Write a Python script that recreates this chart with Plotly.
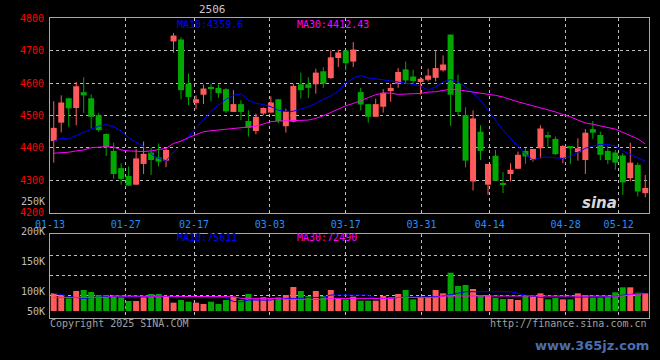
import plotly.graph_objects as go

# ---------------- data ----------------
dates = ["01-13","01-14","01-15","01-16","01-17","01-20","01-21","01-22","01-23","01-24",
         "01-27","02-05","02-06","02-07","02-10","02-11","02-12","02-13","02-14","02-17",
         "02-18","02-19","02-20","02-21","02-24","02-25","02-26","02-27","02-28","03-03",
         "03-04","03-05","03-06","03-07","03-10","03-11","03-12","03-13","03-14","03-17",
         "03-18","03-19","03-20","03-21","03-24","03-25","03-26","03-27","03-28","03-31",
         "04-01","04-02","04-03","04-07","04-08","04-09","04-10","04-11","04-14","04-15",
         "04-16","04-17","04-18","04-21","04-22","04-23","04-24","04-25","04-28","04-29",
         "04-30","05-06","05-07","05-08","05-09","05-12","05-13","05-14","05-15","05-16"]

opens = [4421,4478,4553,4523,4572,4553,4501,4443,4391,4338,
         4314,4287,4351,4386,4371,4361,4728,4734,4598,4539,
         4564,4588,4585,4581,4511,4535,4483,4452,4506,4509,
         4550,4467,4481,4596,4596,4596,4636,4615,4677,4700,
         4666,4572,4535,4496,4527,4575,4598,4642,4620,4603,
         4610,4616,4639,4749,4598,4501,4297,4450,4287,4376,
         4292,4320,4336,4391,4363,4399,4440,4428,4368,4406,
         4387,4363,4458,4440,4391,4386,4377,4307,4348,4261]
highs = [4544,4562,4555,4603,4618,4565,4508,4445,4416,4353,
         4343,4397,4420,4401,4414,4401,4754,4741,4629,4562,
         4595,4598,4596,4584,4578,4547,4516,4506,4525,4559,
         4550,4521,4598,4632,4618,4644,4649,4700,4702,4702,
         4726,4585,4535,4552,4581,4598,4646,4666,4641,4618,
         4644,4698,4685,4749,4626,4525,4516,4470,4351,4394,
         4326,4353,4389,4399,4397,4470,4450,4435,4409,4406,
         4430,4458,4483,4450,4406,4394,4384,4416,4355,4317]
lows = [4355,4448,4465,4470,4508,4460,4450,4375,4305,4287,
        4284,4287,4320,4317,4343,4341,4693,4550,4532,4519,
        4535,4544,4555,4508,4511,4486,4435,4442,4501,4509,
        4476,4447,4479,4552,4554,4567,4585,4613,4649,4639,
        4649,4516,4478,4496,4509,4542,4585,4600,4598,4564,
        4605,4605,4635,4468,4501,4340,4269,4363,4256,4299,
        4261,4297,4336,4351,4358,4368,4402,4379,4353,4351,
        4361,4320,4428,4363,4350,4333,4256,4297,4251,4248]
closes = [4462,4540,4522,4590,4562,4496,4455,4402,4320,4305,
          4284,4368,4382,4363,4358,4394,4746,4578,4557,4550,
          4583,4583,4569,4513,4535,4511,4462,4496,4523,4540,
          4483,4513,4591,4578,4585,4632,4598,4679,4694,4661,
          4703,4534,4496,4535,4570,4585,4634,4608,4606,4613,
          4623,4646,4657,4564,4511,4361,4491,4391,4351,4299,
          4289,4333,4379,4374,4397,4460,4432,4381,4406,4399,
          4399,4447,4447,4379,4363,4355,4294,4355,4266,4277]
ma10 = [4421,4430,4428,4438,4450,4458,4467,4472,4465,4452,
        4432,4419,4404,4381,4368,4361,4387,4409,4435,4460,
        4488,4513,4532,4550,4562,4567,4547,4537,4534,4527,
        4516,4513,4513,4519,4527,4537,4550,4560,4575,4600,
        4615,4623,4616,4613,4610,4606,4603,4600,4596,4591,
        4578,4588,4603,4611,4603,4588,4570,4547,4516,4486,
        4455,4430,4404,4381,4363,4371,4372,4371,4368,4374,
        4387,4399,4406,4411,4411,4406,4391,4381,4371,4359.6]
ma30 = [4384,4385,4387,4391,4394,4401,4403,4404,4403,4394,
        4391,4389,4389,4391,4396,4399,4414,4421,4432,4442,
        4450,4453,4455,4457,4460,4462,4463,4467,4474,4481,
        4483,4483,4483,4485,4486,4491,4499,4509,4519,4530,
        4537,4547,4555,4564,4569,4569,4565,4566,4567,4568,
        4572,4573,4577,4581,4579,4576,4573,4570,4566,4562,
        4557,4549,4542,4536,4530,4525,4518,4511,4503,4496,
        4486,4477,4473,4468,4464,4458,4448,4438,4428,4412.43]
volume = [74200,67200,53200,84000,88200,79800,67200,67200,64400,57400,
          42000,42000,57400,71400,71400,60200,35000,46200,39200,35000,
          29400,39200,29400,46200,60200,46200,71400,49000,57400,53200,
          57400,67200,100800,84000,63000,84000,63000,88200,53200,49000,
          60200,43400,43400,43400,63000,57400,71400,88200,49000,57400,
          57400,88200,74200,161000,105000,109200,92400,67200,67200,56000,
          50400,50400,46200,63000,60200,74200,49000,57400,49000,49000,
          74200,67200,57400,57400,60200,78400,99400,99400,77000,74200]
vol_ma10 = [74000,70000,60000,55000,53000,56000,59000,60000,62000,62000,
            62000,62000,62000,62000,62000,62000,62000,62000,62000,62000,
            60000,60000,60000,55000,40000,39000,46000,46000,46000,46000,
            53000,53000,53000,53000,57000,57000,57000,67000,67000,67000,
            67000,67000,67000,53000,53000,53000,57000,57000,57000,57000,
            57000,60000,63000,70000,77000,81000,81000,81000,81000,81000,
            81000,81000,74000,66000,63000,57000,57000,57000,57000,57000,
            57000,60000,60000,60000,60000,63000,67000,71000,73000,75611]
vol_ma30 = [57000,57000,57000,57000,57000,57000,57000,57000,63000,63000,
            63000,63000,63000,63000,63000,63000,63000,63000,63000,63000,
            60000,60000,60000,60000,60000,53000,53000,53000,53000,53000,
            53000,49000,49000,49000,49000,49000,49000,53000,53000,53000,
            53000,53000,53000,53000,53000,53000,57000,57000,57000,57000,
            57000,57000,63000,63000,63000,63000,63000,63000,63000,63000,
            63000,60000,60000,60000,60000,60000,60000,60000,60000,60000,
            60000,63000,63000,63000,63000,63000,63000,69000,71000,72490]
tick_dates = ["01-13","01-27","02-17","03-03","03-17","03-31","04-14","04-28","05-12"]
price_ticks = [4200, 4300, 4400, 4500, 4600, 4700, 4800]
vol_labels = ["250K", "200K", "150K", "100K", "50K"]
title = "2506"

# ---------------- styling ----------------
UP = "#FF5B5B"
DOWN = "#00A800"
GRID = "#BDBDBD"
FONT = "DejaVu Sans Mono"
n = len(dates)
idx = list(range(n))
up = [c >= o for o, c in zip(opens, closes)]
colors = [UP if u else DOWN for u in up]

# Sina places its date grid on an (n-1)-step scale
tick_pos = [dates.index(d) * n / (n - 1) - 0.5 for d in tick_dates]

fig = go.Figure()

# wicks
for flag, col in ((True, UP), (False, DOWN)):
    wx, wy = [], []
    for i in idx:
        if up[i] == flag:
            wx += [i, i, None]
            wy += [lows[i], highs[i], None]
    fig.add_trace(go.Scatter(x=wx, y=wy, mode="lines", line=dict(color=col, width=1),
                             xaxis="x", yaxis="y", hoverinfo="skip", showlegend=False))

# bodies
body_base = [min(o, c) for o, c in zip(opens, closes)]
body_h = [max(abs(c - o), 2.5) for o, c in zip(opens, closes)]
fig.add_trace(go.Bar(x=idx, y=body_h, base=body_base, width=0.8,
                     marker=dict(color=colors, line=dict(width=0)),
                     xaxis="x", yaxis="y", showlegend=False))

# price MAs
fig.add_trace(go.Scatter(x=idx, y=ma10, mode="lines", line=dict(color="#0000FF", width=1),
                         xaxis="x", yaxis="y", showlegend=False))
fig.add_trace(go.Scatter(x=idx, y=ma30, mode="lines", line=dict(color="#FF00FF", width=1),
                         xaxis="x", yaxis="y", showlegend=False))

# volume
fig.add_trace(go.Bar(x=idx, y=volume, width=0.8,
                     marker=dict(color=colors, line=dict(width=0)),
                     xaxis="x2", yaxis="y2", showlegend=False))
fig.add_trace(go.Scatter(x=idx, y=vol_ma10, mode="lines", line=dict(color="#0000FF", width=1),
                         xaxis="x2", yaxis="y2", showlegend=False))
fig.add_trace(go.Scatter(x=idx, y=vol_ma30, mode="lines", line=dict(color="#FF00FF", width=1),
                         xaxis="x2", yaxis="y2", showlegend=False))

axis_common = dict(showline=True, linecolor="#A8A8A8", linewidth=1, mirror=True,
                   gridcolor=GRID, griddash="dot", gridwidth=1, zeroline=False,
                   fixedrange=True)

fig.update_layout(
    width=660, height=360,
    margin=dict(l=50, r=11, t=18, b=42),
    paper_bgcolor="#000000", plot_bgcolor="#000000",
    barmode="overlay", hovermode=False,
    font=dict(family=FONT, size=10, color="#BDBDBD"),
    xaxis=dict(domain=[0, 1], anchor="y", range=[-0.5, n - 0.5],
               tickmode="array", tickvals=tick_pos, ticktext=tick_dates,
               tickfont=dict(color="#1E90FF", size=10, family=FONT),
               ticks="outside", ticklen=2, tickcolor="#000000",
               showgrid=True, **axis_common),
    yaxis=dict(domain=[0.35, 1.0], anchor="x", range=[4199.9, 4800.1],
               tickmode="array", tickvals=price_ticks,
               ticktext=[str(v) for v in price_ticks],
               tickfont=dict(color="#FF0000", size=10, family=FONT),
               ticks="outside", ticklen=3, tickcolor="#000000",
               showgrid=True, **axis_common),
    xaxis2=dict(domain=[0, 1], anchor="y2", range=[-0.5, n - 0.5],
                tickmode="array", tickvals=tick_pos, showticklabels=False,
                showgrid=True, **axis_common),
    yaxis2=dict(domain=[0, 0.28], anchor="x2", range=[-29400, 323400],
                tickmode="array", tickvals=[67200, 151200, 235200], showticklabels=False,
                showgrid=True, **axis_common),
)

def ann(text, x, y, color, xanchor="left", size=10, **kw):
    fig.add_annotation(text=text, x=x, y=y, xref="paper", yref="paper",
                       xanchor=xanchor, yanchor="middle", showarrow=False,
                       font=dict(family=kw.pop("family", FONT), size=size, color=color), **kw)

# legends (latest values)
ann("MA10:%s" % ma10[-1], 0.2087, 0.98, "#0000FF")
ann("MA30:%s" % ma30[-1], 0.409, 0.98, "#FF00FF")
ann("MA10:%d" % vol_ma10[-1], 0.2087, 0.268, "#0000FF")
ann("MA30:%d" % vol_ma30[-1], 0.409, 0.268, "#FF00FF")
ann(title, 0.272, 1.027, "#C8C8C8", xanchor="center", size=11)

# volume axis labels (as Sina draws them)
for lab, ypx in zip(vol_labels, [201, 231, 261, 291, 311]):
    ann(lab, 0, (318 - ypx) / 300, "#BDBDBD", xanchor="right", xshift=-3)

ann("Copyright 2025 SINA.COM", -0.003, -0.017, "#A0A0A0")
ann("http://finance.sina.com.cn", 1.0, -0.017, "#A0A0A0", xanchor="right")
ann("<b><i>sina</i></b>", 0.918, 0.385, "#D8D8D8", xanchor="center", size=15,
    family="DejaVu Sans")
ann("<b>www.365jz.com</b>", 0.905, -0.09, "#4A6FB0", xanchor="center", size=13,
    family="DejaVu Sans")

fig.write_html("out.html")
